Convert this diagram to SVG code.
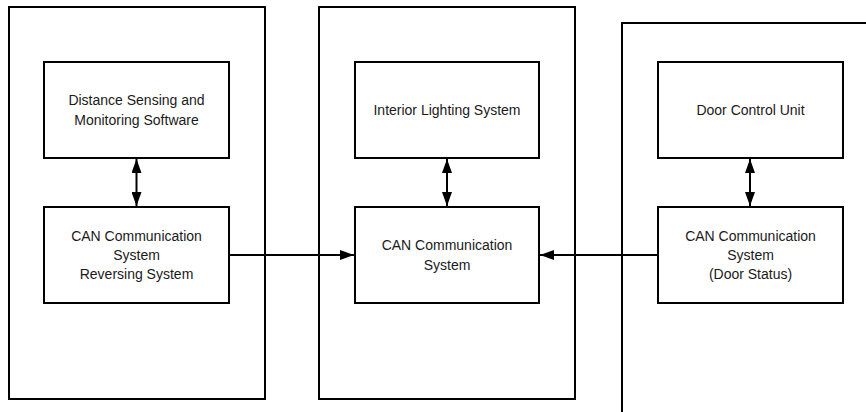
<svg xmlns="http://www.w3.org/2000/svg" width="866" height="412" viewBox="0 0 866 412">
  <style>
    .frame { fill: #fff; stroke: #000; stroke-width: 2; }
    .box { fill: #fff; stroke: #000; stroke-width: 2; }
    .label { font-family: "Liberation Sans", Arial, sans-serif; font-size: 14px; fill: #1a1a1a; text-anchor: middle; }
    .link { stroke: #000; stroke-width: 2; fill: none; }
  </style>
  <defs>
    <marker id="head" viewBox="0 0 14 10" refX="14" refY="5" markerWidth="14" markerHeight="10" markerUnits="userSpaceOnUse" orient="auto-start-reverse">
      <path d="M0,0 L14,5 L0,10 Z" fill="#000"/>
    </marker>
  </defs>
  <rect width="866" height="412" fill="#fff"/>

  <!-- Reversing ECU -->
  <g id="ecu-reversing">
    <rect class="frame" x="9" y="7" width="256" height="392"/>
    <g id="distance-sensing">
      <rect class="box" x="44" y="62" width="185" height="96"/>
      <text class="label" x="136.5" y="105">Distance Sensing and</text>
      <text class="label" x="136.5" y="125">Monitoring Software</text>
    </g>
    <g id="can-reversing">
      <rect class="box" x="44" y="207" width="185" height="96"/>
      <text class="label" x="136.5" y="241">CAN Communication</text>
      <text class="label" x="136.5" y="260">System</text>
      <text class="label" x="136.5" y="279">Reversing System</text>
    </g>
  </g>

  <!-- Interior lighting ECU -->
  <g id="ecu-lighting">
    <rect class="frame" x="319" y="7" width="256" height="392"/>
    <g id="interior-lighting">
      <rect class="box" x="355" y="62" width="184" height="96"/>
      <text class="label" x="447" y="115">Interior Lighting System</text>
    </g>
    <g id="can-lighting">
      <rect class="box" x="355" y="207" width="184" height="96"/>
      <text class="label" x="447" y="250">CAN Communication</text>
      <text class="label" x="447" y="270">System</text>
    </g>
  </g>

  <!-- Door ECU -->
  <g id="ecu-door">
    <rect class="frame" x="622" y="23" width="300" height="450"/>
    <g id="door-control">
      <rect class="box" x="658" y="62" width="185" height="96"/>
      <text class="label" x="750.5" y="115">Door Control Unit</text>
    </g>
    <g id="can-door">
      <rect class="box" x="658" y="207" width="185" height="96"/>
      <text class="label" x="750.5" y="241">CAN Communication</text>
      <text class="label" x="750.5" y="260">System</text>
      <text class="label" x="750.5" y="279">(Door Status)</text>
    </g>
  </g>

  <!-- Connectors -->
  <g id="connectors">
    <line class="link" x1="136.5" y1="159" x2="136.5" y2="206" marker-start="url(#head)" marker-end="url(#head)"/>
    <line class="link" x1="447" y1="159" x2="447" y2="206" marker-start="url(#head)" marker-end="url(#head)"/>
    <line class="link" x1="750" y1="159" x2="750" y2="206" marker-start="url(#head)" marker-end="url(#head)"/>
    <line class="link" x1="230" y1="255" x2="354" y2="255" marker-end="url(#head)"/>
    <line class="link" x1="657" y1="255" x2="540" y2="255" marker-end="url(#head)"/>
  </g>
</svg>
